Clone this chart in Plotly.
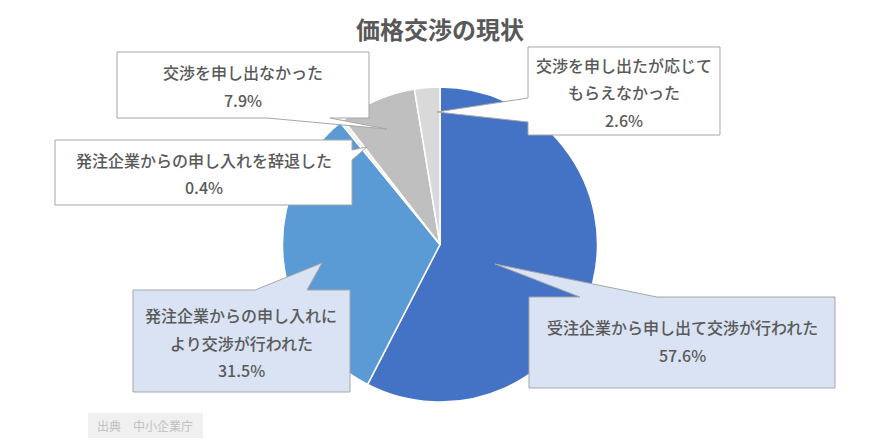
import plotly.graph_objects as go

W, H = 881, 442

# ---- data ----
categories = [
    "受注企業から申し出て交渉が行われた",
    "発注企業からの申し入れにより交渉が行われた",
    "発注企業からの申し入れを辞退した",
    "交渉を申し出なかった",
    "交渉を申し出たが応じてもらえなかった",
]
values = [57.6, 31.5, 0.4, 7.9, 2.6]
label_lines = [
    ["受注企業から申し出て交渉が行われた"],
    ["発注企業からの申し入れに", "より交渉が行われた"],
    ["発注企業からの申し入れを辞退した"],
    ["交渉を申し出なかった"],
    ["交渉を申し出たが応じて", "もらえなかった"],
]
title_text = "価格交渉の現状"
source_text = "出典　中小企業庁"

colors = ["#4472C4", "#5B9BD5", "#EDEDED", "#BFBFBF", "#D9D9D9"]

FONT = "Noto Sans CJK JP"
TXT = "#595959"

def px(x):
    return x / W

def py(y):
    return 1 - y / H

# pie geometry (pixels)
cx, cy, r = 440, 244.5, 157.5

fig = go.Figure()
fig.add_trace(go.Pie(
    labels=categories, values=values, sort=False, direction="clockwise",
    rotation=0, textinfo="none", hoverinfo="label+percent",
    marker=dict(colors=colors, line=dict(color="#FFFFFF", width=1.5)),
    domain=dict(x=[px(cx - r), px(cx + r)], y=[py(cy + r), py(cy - r)]),
    showlegend=False,
))

# callout boxes: (index, box [x0,y0,x1,y1], tail points, fill, line ys)
callouts = [
    (0, (529, 297, 835, 388), [(580, 297), (495, 264), (657, 297)], "#DAE3F3", [327, 355]),
    (1, (133, 290, 350, 392), [(255, 290), (322, 263), (307, 290)], "#DAE3F3", [315, 343, 370]),
    (2, (55, 140, 352, 205), [(352, 150), (367, 147), (352, 160)], "#FFFFFF", [160, 187]),
    (3, (117, 52, 369, 118), [(267, 118), (387, 129), (330, 118)], "#FFFFFF", [72, 100]),
    (4, (528, 47, 720, 135), [(528, 98), (437, 112), (528, 122)], "#FFFFFF", [65, 92, 120]),
]

shapes = []
annotations = []
for idx, (x0, y0, x1, y1), tail, fill, ys in callouts:
    a, tip, b = tail
    if a[1] == y1 and b[1] == y1:      # bottom edge
        pts = [(x0, y0), (x1, y0), (x1, y1), (max(a[0], b[0]), y1), tip, (min(a[0], b[0]), y1), (x0, y1)]
    elif a[1] == y0 and b[1] == y0:    # top edge
        pts = [(x0, y0), (min(a[0], b[0]), y0), tip, (max(a[0], b[0]), y0), (x1, y0), (x1, y1), (x0, y1)]
    elif a[0] == x1 and b[0] == x1:    # right edge
        pts = [(x0, y0), (x1, y0), (x1, min(a[1], b[1])), tip, (x1, max(a[1], b[1])), (x1, y1), (x0, y1)]
    else:                              # left edge
        pts = [(x0, y0), (x1, y0), (x1, y1), (x0, y1), (x0, max(a[1], b[1])), tip, (x0, min(a[1], b[1]))]
    path = "M " + " L ".join(f"{px(x):.5f},{py(y):.5f}" for x, y in pts) + " Z"
    shapes.append(dict(type="path", path=path, xref="paper", yref="paper",
                       fillcolor=fill, line=dict(color="#A6A6A6", width=1), layer="above"))
    lines = label_lines[idx] + [f"{values[idx]:.1f}%"]
    xc = (x0 + x1) / 2
    for text, yy in zip(lines, ys):
        annotations.append(dict(x=px(xc), y=py(yy), xref="paper", yref="paper",
                                text=text, showarrow=False,
                                xanchor="center", yanchor="middle",
                                font=dict(family=FONT, size=16, color=TXT, weight=500)))

# title
annotations.append(dict(x=px(440), y=py(28), xref="paper", yref="paper",
                        text=title_text, showarrow=False,
                        xanchor="center", yanchor="middle",
                        font=dict(family=FONT, size=24, color=TXT, weight=600)))

# source box
shapes.append(dict(type="rect", xref="paper", yref="paper",
                   x0=px(88), x1=px(203), y0=py(438), y1=py(413),
                   fillcolor="#F0F0F0", line=dict(width=0), layer="above"))
annotations.append(dict(x=px(95), y=py(425.5), xref="paper", yref="paper",
                        text=source_text, showarrow=False,
                        xanchor="left", yanchor="middle",
                        font=dict(family=FONT, size=12, color="#BFBFBF")))

fig.update_layout(
    width=W, height=H,
    margin=dict(l=0, r=0, t=0, b=0),
    paper_bgcolor="#FFFFFF", plot_bgcolor="#FFFFFF",
    shapes=shapes, annotations=annotations,
    font=dict(family=FONT),
)

fig.write_html("out.html", config={"displayModeBar": False},
               post_script="document.body.style.margin='0';document.body.style.overflow='hidden';")
